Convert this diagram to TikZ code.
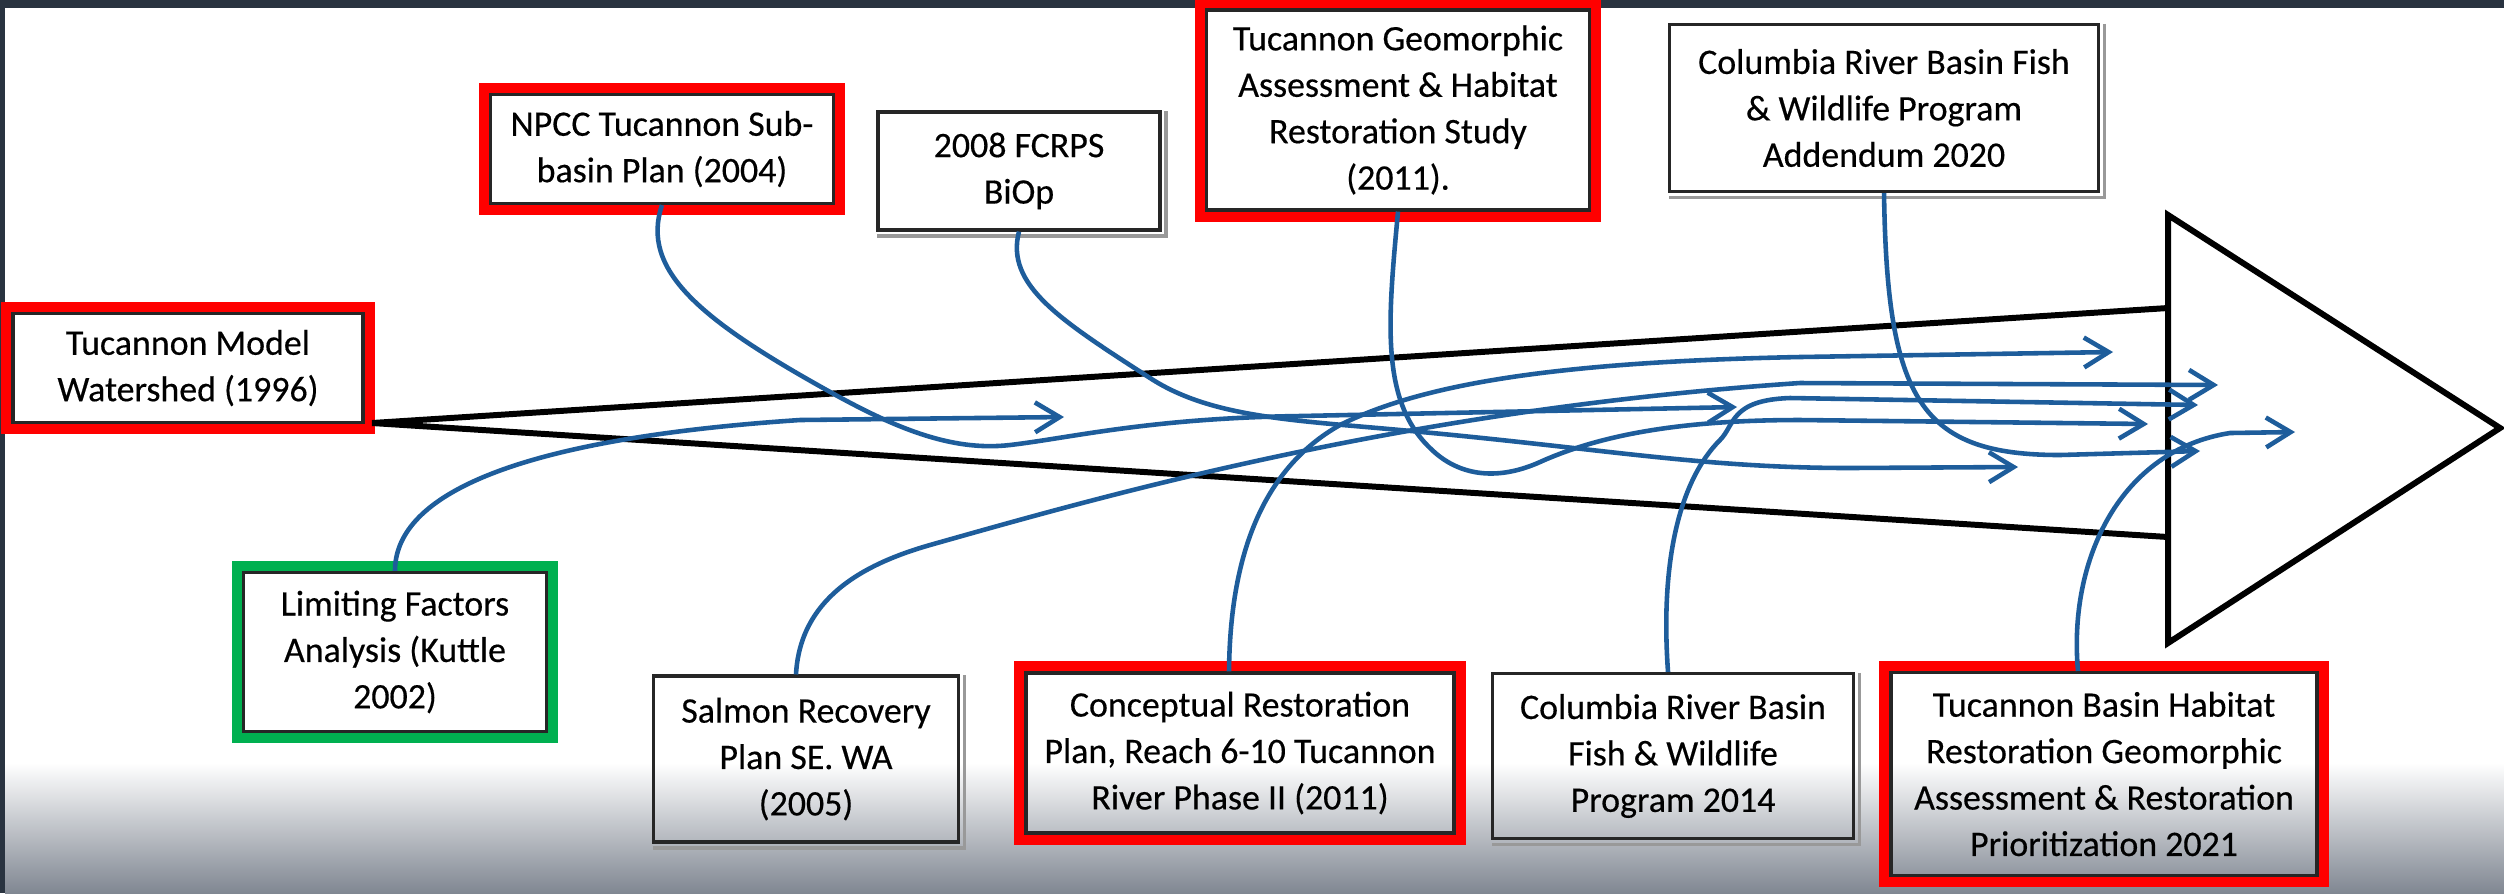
\documentclass[tikz,border=0pt]{standalone}
\usepackage{fontspec}
\setmainfont{Carlito}
\newfontfamily\docfont{Carlito}[FakeBold=0.4]
\usetikzlibrary{arrows.meta}
\definecolor{flowBlue}{RGB}{30,93,155}
\definecolor{frameRed}{RGB}{255,0,0}
\definecolor{frameGreen}{RGB}{0,176,80}
\definecolor{slideNavy}{RGB}{41,51,64}
\definecolor{slideGray}{RGB}{128,135,146}
\begin{document}
\begin{tikzpicture}
[x=0.01cm,y=-0.01cm,
  docDecorate/.style={shape=rectangle,draw=black!85,line width=0.9pt,inner sep=0pt,align=center,%
    font=\docfont\fontsize{10.2}{13.2}\selectfont},%
  shadowDecorate/.style={draw=black!40,line width=1pt},%
  frameDecorate/.style={draw=#1,line width=0.1cm},%
  flowDecorate/.style={draw=flowBlue,line width=1.3pt,-{Straight Barb[length=7pt,width=8.5pt]}},%
  arrowDecorate/.style={draw=black,line width=1.7pt}]
\useasboundingbox (0,0) rectangle (2504,893);
%% slide background
\fill[slideNavy] (0,0) rectangle (2504,893);
\fill[white] (5,8) rectangle (2504,893);
\shade[top color=white,bottom color=slideGray] (5,763) rectangle (2504,893);
%% documents
\foreach \nodename/\x/\y/\w/\h/\txt in {
  model/188/368/350/109/{Tucannon Model\\Watershed (1996)},
  npcc/662/149/343/109/{NPCC Tucannon Sub-\\basin Plan (2004)},
  fcrps/1019/171/282/118/{2008 FCRPS\\BiOp},
  geo/1398/110/383/200/{Tucannon Geomorphic\\Assessment \& Habitat\\Restoration Study\\(2011).},
  col20/1884/108/429/167/{Columbia River Basin Fish\\\& Wildlife Program\\Addendum 2020},
  limit/395/652/303/159/{Limiting Factors\\Analysis (Kuttle\\2002)},
  salmon/806/759/305/166/{Salmon Recovery\\Plan SE. WA\\(2005)},
  concept/1240/753/428/160/{Conceptual Restoration\\Plan, Reach 6-10 Tucannon\\River Phase II (2011)},
  col14/1673/756/361/165/{Columbia River Basin\\Fish \& Wildlife\\Program 2014},
  basin/2104/774/426/203/{Tucannon Basin Habitat\\Restoration Geomorphic\\Assessment \& Restoration\\Prioritization 2021}}
{
  \node (\nodename) at (\x,\y) [docDecorate,minimum width=\w*0.01cm,minimum height=\h*0.01cm] {\txt};
  \draw[shadowDecorate] ([shift={(1.2pt,-0.3pt)}]\nodename.north east)
    -- ([shift={(1.2pt,-1.2pt)}]\nodename.south east) -- ([shift={(0.3pt,-1.2pt)}]\nodename.south west);
}
%% frames round the key documents
\foreach \nodename/\colname in {model/frameRed, npcc/frameRed, geo/frameRed,
  concept/frameRed, basin/frameRed, limit/frameGreen}
{
  \draw[frameDecorate=\colname] ([shift={(-0.05cm,0.05cm)}]\nodename.north west)
    rectangle ([shift={(0.05cm,-0.05cm)}]\nodename.south east);
}
%% big arrow
\coordinate (tail) at (372,423);
\coordinate (shaftTop) at (2168,308);
\coordinate (shaftBot) at (2168,537);
\coordinate (headTop) at (2168,215);
\coordinate (headTip) at (2500,428);
\coordinate (headBot) at (2168,643);
\draw[arrowDecorate] (shaftTop) -- (tail) -- (shaftBot);
\draw[arrowDecorate] (headTop) -- (headTip) -- (headBot) -- cycle;
%% ends of the flows
\foreach \nodename/\x/\y in {
  limitEnd/1064/417, npccEnd/1737/407, fcrpsEnd/2018/467, geoEnd/2148/424,
  col20End/2200/451, basinEnd/2295/432, col14End/2198/405, salmonEnd/2218/385,
  conceptEnd/2113/352}
{
  \coordinate (\nodename) at (\x,\y);
}
%% flows
\draw[flowDecorate] (limit.north) .. controls (395,500) and (500,440) .. (800,420) -- (limitEnd);
\draw[flowDecorate] (npcc.south) .. controls (640,270) and (700,320) .. (832,393)
  .. controls (892,426) and (950,452) .. (1010,445)
  .. controls (1070,438) and (1150,418) .. (1300,416) -- (npccEnd);
\draw[flowDecorate] (fcrps.south) .. controls (1005,285) and (1060,320) .. (1150,378)
  .. controls (1210,417) and (1290,420) .. (1400,430)
  .. controls (1600,448) and (1700,468) .. (1850,468) -- (fcrpsEnd);
\draw[flowDecorate] (geo.south) .. controls (1388,320) and (1380,400) .. (1430,448)
  .. controls (1460,478) and (1500,480) .. (1540,462)
  .. controls (1600,435) and (1680,420) .. (1800,420) -- (geoEnd);
\draw[flowDecorate] (col20.south) .. controls (1887,400) and (1920,455) .. (2060,455) -- (col20End);
\draw[flowDecorate] ([xshift=-0.26cm]basin.north) .. controls (2068,560) and (2120,450) .. (2230,433) -- (basinEnd);
\draw[flowDecorate] ([xshift=-0.05cm]col14.north) .. controls (1660,560) and (1680,480) .. (1720,440)
  .. controls (1735,425) and (1730,400) .. (1790,398) -- (col14End);
\draw[flowDecorate] ([xshift=-0.1cm]salmon.north) .. controls (800,600) and (860,565) .. (930,545)
  .. controls (1100,497) and (1400,410) .. (1800,383) -- (salmonEnd);
\draw[flowDecorate] ([xshift=-0.11cm]concept.north) .. controls (1230,560) and (1260,470) .. (1340,425)
  .. controls (1420,385) and (1550,362) .. (1800,357) -- (conceptEnd);
\end{tikzpicture}
\end{document}
